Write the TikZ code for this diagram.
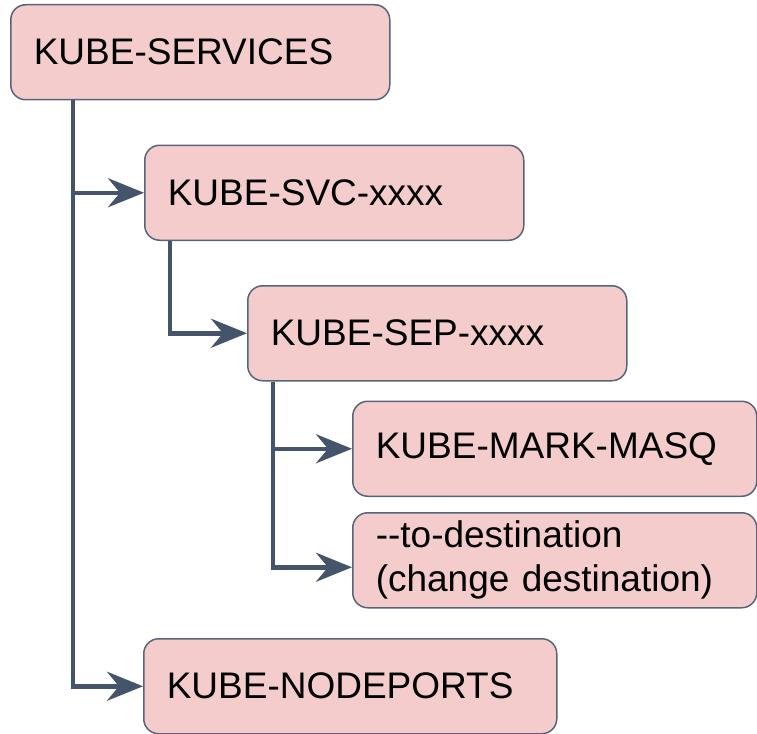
\documentclass[tikz,border=0pt]{standalone}
\usepackage{fontspec}
\setmainfont{Liberation Sans}
\usepackage{tikz}
\usetikzlibrary{arrows.meta, positioning}
\definecolor{chainfill}{HTML}{F4CCCC}
\definecolor{chainedge}{HTML}{56657A}
\definecolor{jumpline}{HTML}{44546A}

\begin{document}
\begin{tikzpicture}[
x=1pt, y=1pt,
every node/.style={font=\fontsize{37}{44}\selectfont, align=left},
chain/.style={rectangle, rounded corners=15pt, draw=chainedge, fill=chainfill, line width=1.5pt, text width=#1, inner xsep=23pt, inner ysep=6pt, minimum height=95pt, anchor=north west},
jump/.style={-{Stealth[length=36pt, width=29pt, inset=12pt]}, line width=4.5pt, jumpline}
]
\useasboundingbox (0,0) rectangle (757,-733);
% Chains
\node[chain=333pt] (services) at (10,-4) {KUBE-SERVICES};
\node[chain=333pt, below right=44pt and 134pt of services.south west] (svc) {KUBE-SVC-xxxx};
\node[chain=333pt, below right=44pt and 103pt of svc.south west] (sep) {KUBE-SEP-xxxx};
\node[chain=358pt, below right=19pt and 105pt of sep.south west] (masq) {KUBE-MARK-MASQ};
\node[chain=358pt, below=15pt of masq] (dnat) {-{}-to-destination\\(change destination)};
\node[chain=367pt] (nodeports) at (143,-638) {KUBE-NODEPORTS};
% Jumps
\draw[jump] ([xshift=63pt]services.south west) |- (svc.west);
\draw[jump] ([xshift=63pt]services.south west) |- (nodeports.west);
\draw[jump] ([xshift=26pt]svc.south west) |- (sep.west);
\draw[jump] ([xshift=26pt]sep.south west) |- (masq.west);
\draw[jump] ([xshift=26pt]sep.south west) |- ([yshift=-7pt]dnat.west);
\end{tikzpicture}
\end{document}
